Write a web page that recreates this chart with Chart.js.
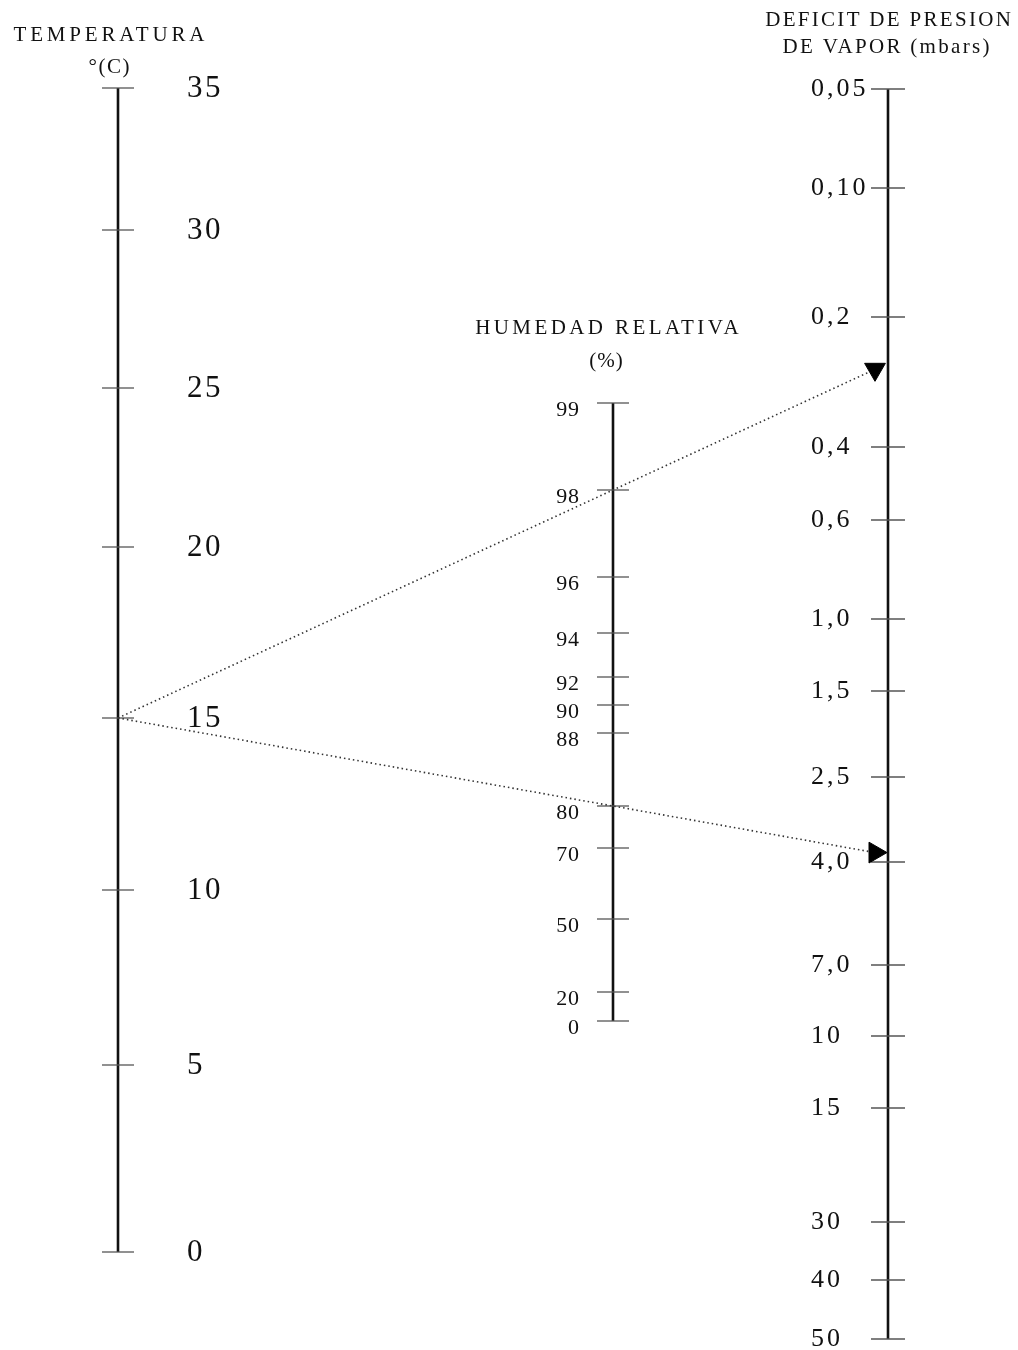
<!DOCTYPE html>
<html lang="es">
<head>
<meta charset="utf-8">
<title>Nomograma: déficit de presión de vapor</title>
<script src="https://cdn.jsdelivr.net/npm/chart.js@4.4.1/dist/chart.umd.min.js"></script>
<style>
  html, body { margin: 0; padding: 0; background: #fff; }
  #wrap { position: relative; width: 1018px; height: 1350px; }
</style>
</head>
<body>
<div id="wrap"><canvas id="nomo"></canvas></div>
<script>
// Graduations of the three nomogram scales.
// Positions are measured down the sheet (mm from the top edge).
const tempLabels = ['35', '30', '25', '20', '15', '10', '5', '0'];
const tempPos    = [8.8, 23.0, 38.8, 54.7, 71.8, 89.0, 106.5, 125.2];

const rhLabels = ['99', '98', '96', '94', '92', '90', '88', '80', '70', '50', '20', '0'];
const rhPos    = [40.3, 49.0, 57.7, 63.3, 67.7, 70.5, 73.3, 80.6, 84.8, 91.9, 99.2, 102.1];

const vpdLabels = ['0,05', '0,10', '0,2', '0,4', '0,6', '1,0', '1,5', '2,5', '4,0', '7,0', '10', '15', '30', '40', '50'];
const vpdPos    = [8.9, 18.8, 31.7, 44.7, 52.0, 61.9, 69.1, 77.7, 86.2, 96.5, 103.6, 110.8, 122.2, 128.0, 133.9];

// Worked readings: temperature and relative humidity joined by a straight line
// that is carried on to the vapour-pressure-deficit scale.
const exampleTemp = ['15', '15'];
const exampleRH   = ['98', '80'];

// Layout (horizontal placement of the scales, in the same mm units)
const SHEET_W = 101.8, SHEET_H = 135;
const AXIS_X = { temp: 11.8, rh: 61.3, vpd: 88.8 };
const ARROW_END_X = 87.5;

function axisLine(x, pos) {
  return {
    type: 'line',
    data: [{ x: x, y: Math.min(...pos) }, { x: x, y: Math.max(...pos) }],
    borderColor: '#111', borderWidth: 2.6, pointRadius: 0, order: 3
  };
}
function tickMarks(x, pos, half) {
  return {
    type: 'scatter',
    data: pos.map(p => ({ x: x, y: p })),
    pointStyle: 'line', pointRadius: half, borderColor: '#555',
    borderWidth: 1.3, showLine: false, order: 2
  };
}
function readingLine(tLabel, rLabel, rotation) {
  const t = tempPos[tempLabels.indexOf(tLabel)];
  const r = rhPos[rhLabels.indexOf(rLabel)];
  const slope = (r - t) / (AXIS_X.rh - AXIS_X.temp);
  const yEnd = t + slope * (ARROW_END_X - AXIS_X.temp);
  return {
    type: 'line',
    data: [{ x: AXIS_X.temp, y: t }, { x: ARROW_END_X, y: yEnd }],
    borderColor: '#333', borderWidth: 1.6, borderDash: [1.5, 3],
    pointRadius: [0, 12], pointStyle: 'triangle', pointRotation: [0, rotation],
    pointBackgroundColor: '#000', pointBorderColor: '#000', pointBorderWidth: 1,
    order: 1
  };
}

const datasets = [
  axisLine(AXIS_X.temp, tempPos),
  axisLine(AXIS_X.rh, rhPos),
  axisLine(AXIS_X.vpd, vpdPos),
  tickMarks(AXIS_X.temp, tempPos, 16),
  tickMarks(AXIS_X.rh, rhPos, 16),
  tickMarks(AXIS_X.vpd, vpdPos, 17),
  readingLine(exampleTemp[0], exampleRH[0], 180),
  readingLine(exampleTemp[1], exampleRH[1], 90)
];

// Draws the graduation numbers and the scale titles as canvas text.
const scaleText = {
  id: 'scaleText',
  afterDatasetsDraw(chart, args, opts) {
    const { ctx, scales: { x, y } } = chart;
    ctx.save();
    ctx.fillStyle = opts.color;
    ctx.textBaseline = 'middle';
    const put = (text, px, py, align, font, spacing) => {
      ctx.font = font;
      ctx.letterSpacing = spacing + 'px';
      ctx.textAlign = align;
      const shift = align === 'right' ? spacing : align === 'center' ? spacing / 2 : 0;
      ctx.fillText(text, px + shift, py);
    };
    for (const g of opts.groups) {
      g.labels.forEach((t, i) => {
        put(t, x.getPixelForValue(g.x), y.getPixelForValue(g.pos[i]) + g.dy, g.align, g.font, g.spacing);
      });
    }
    for (const t of opts.titles) {
      put(t.text, x.getPixelForValue(t.x), y.getPixelForValue(t.y), 'center', t.font, t.spacing);
    }
    ctx.restore();
  }
};

const SERIF = '"Liberation Serif", "Times New Roman", serif';

new Chart(document.getElementById('nomo'), {
  type: 'scatter',
  data: { datasets },
  options: {
    responsive: true,
    maintainAspectRatio: false,
    animation: false,
    events: [],
    layout: { padding: 0, autoPadding: false },
    scales: {
      x: { type: 'linear', min: 0, max: SHEET_W, display: false },
      y: { type: 'linear', min: 0, max: SHEET_H, reverse: true, display: false }
    },
    plugins: {
      legend: { display: false },
      tooltip: { enabled: false },
      scaleText: {
        color: '#111',
        groups: [
          { labels: tempLabels, pos: tempPos, x: 18.7, dy: 1, align: 'left', font: '31px ' + SERIF, spacing: 2.5 },
          { labels: rhLabels, pos: rhPos, x: 57.9, dy: 7, align: 'right', font: '22px ' + SERIF, spacing: 0.8 },
          { labels: vpdLabels, pos: vpdPos, x: 81.1, dy: 0, align: 'left', font: '26px ' + SERIF, spacing: 3 }
        ],
        titles: [
          { text: 'TEMPERATURA', x: 10.9, y: 3.5, font: '21px ' + SERIF, spacing: 3.8 },
          { text: '°(C)', x: 10.9, y: 6.7, font: '21px ' + SERIF, spacing: 1.5 },
          { text: 'DEFICIT DE PRESION', x: 88.8, y: 2.0, font: '21px ' + SERIF, spacing: 2.3 },
          { text: 'DE VAPOR (mbars)', x: 88.6, y: 4.7, font: '21px ' + SERIF, spacing: 2.3 },
          { text: 'HUMEDAD RELATIVA', x: 60.7, y: 32.8, font: '21px ' + SERIF, spacing: 3.4 },
          { text: '(%)', x: 60.6, y: 36.1, font: '21px ' + SERIF, spacing: 1 }
        ]
      }
    }
  },
  plugins: [scaleText]
});
</script>
</body>
</html>
